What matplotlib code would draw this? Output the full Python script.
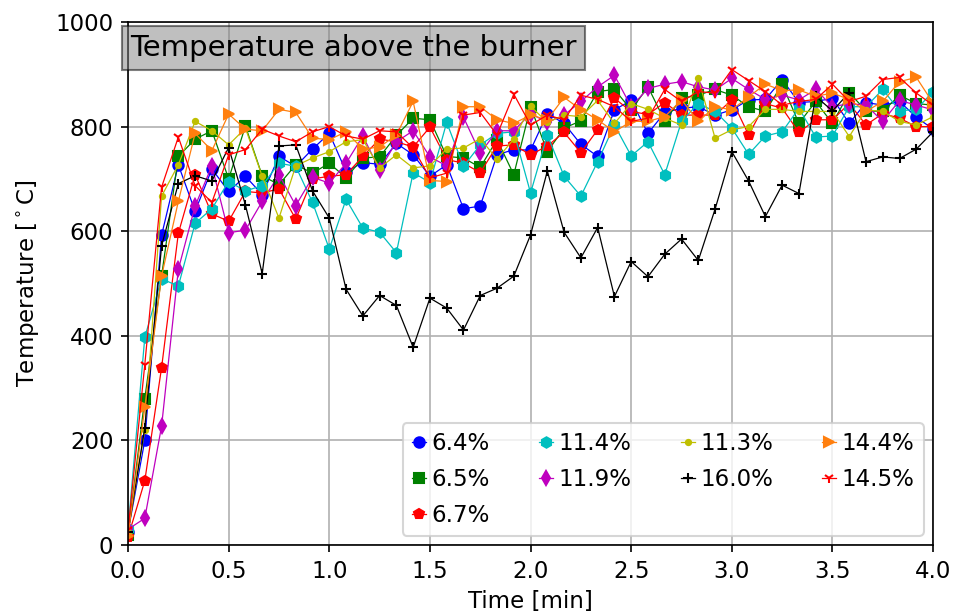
import numpy as np
import matplotlib
matplotlib.use("Agg")
import matplotlib.pyplot as plt

# one sample every 5 s
time_min = np.arange(49) * 5 / 60.0

labels = ["6.4%", "6.5%", "6.7%", "11.4%", "11.9%", "11.3%", "16.0%", "14.4%", "14.5%"]

t_64 = [25, 200, 592, 727, 638, 719, 676, 705, 670, 743, 724, 757, 787, 714, 731, 728, 768,
        746, 705, 727, 643, 648, 746, 756, 755, 825, 806, 766, 743, 832, 850, 787, 827, 835,
        838, 822, 832, 851, 852, 890, 846, 848, 854, 806, 846, 841, 848, 818, 795]
t_65 = [20, 280, 514, 743, 776, 792, 700, 801, 706, 689, 727, 711, 730, 702, 740, 742, 783,
        816, 813, 743, 740, 722, 775, 708, 838, 752, 797, 811, 867, 871, 832, 876, 811, 854,
        860, 871, 860, 838, 829, 881, 806, 848, 806, 865, 830, 829, 860, 844, 841]
t_67 = [15, 123, 339, 596, 708, 633, 619, 676, 673, 681, 623, 700, 705, 708, 743, 776, 771,
        761, 799, 737, 730, 712, 763, 765, 746, 763, 789, 750, 794, 854, 829, 823, 846, 822,
        822, 822, 851, 784, 844, 835, 789, 813, 813, 844, 803, 825, 816, 800, 800]
t_114 = [30, 397, 509, 495, 615, 643, 695, 677, 687, 730, 724, 655, 566, 661, 606, 598, 559,
         712, 693, 808, 724, 765, 787, 790, 673, 784, 705, 667, 733, 803, 744, 771, 708, 810,
         844, 829, 797, 747, 782, 790, 835, 780, 782, 838, 838, 871, 830, 833, 867]
t_119 = [30, 51, 227, 527, 648, 725, 597, 602, 657, 708, 649, 703, 692, 730, 782, 717, 771,
         792, 742, 725, 818, 749, 792, 792, 825, 808, 822, 848, 876, 898, 838, 873, 881, 886,
         876, 870, 892, 871, 852, 860, 851, 871, 838, 844, 841, 810, 850, 841, 832]
t_113 = [25, 220, 667, 727, 810, 792, 765, 797, 705, 625, 725, 740, 752, 771, 775, 721, 746,
         721, 725, 757, 759, 777, 738, 776, 839, 808, 822, 819, 850, 806, 844, 833, 816, 803,
         892, 778, 794, 800, 833, 833, 829, 829, 829, 781, 832, 829, 810, 803, 819]
t_160 = [25, 224, 572, 691, 706, 696, 760, 650, 519, 763, 765, 677, 625, 489, 438, 477, 458,
         378, 472, 453, 411, 477, 491, 514, 593, 715, 598, 549, 607, 475, 542, 513, 556, 585,
         544, 642, 752, 696, 628, 688, 672, 858, 830, 865, 733, 742, 739, 757, 790]
t_144 = [18, 263, 514, 657, 787, 754, 824, 795, 792, 833, 827, 778, 775, 790, 757, 761, 784,
         848, 697, 695, 838, 838, 813, 806, 822, 813, 856, 832, 813, 790, 810, 810, 819, 851,
         810, 838, 832, 857, 881, 869, 870, 858, 864, 852, 829, 848, 886, 894, 845]
t_145 = [28, 345, 684, 780, 687, 655, 746, 756, 795, 782, 771, 790, 800, 782, 776, 792, 790,
         759, 702, 711, 822, 827, 784, 862, 803, 822, 813, 860, 852, 838, 810, 816, 871, 848,
         867, 864, 909, 888, 867, 841, 848, 852, 881, 848, 858, 890, 894, 864, 841]

series = [t_64, t_65, t_67, t_114, t_119, t_113, t_160, t_144, t_145]
styles = [("b", "o"), ("g", "s"), ("r", "p"), ("c", "h"), ("m", "d"),
          ("y", "."), ("k", "+"), ("tab:orange", ">"), ("r", "1")]

plt.rcParams["font.size"] = 11

dpi = 150
fig = plt.figure(figsize=(959 / dpi, 616 / dpi), dpi=dpi)
ax = fig.add_axes([0.1335, 0.1153, 0.8395, 0.849])

for vals, (col, mk), lab in zip(series, styles, labels):
    ax.plot(time_min, vals, color=col, marker=mk, markersize=5, linewidth=0.6, label=lab)

ax.set_xlim(0, 4)
ax.set_ylim(0, 1000)
ax.set_xticks(np.arange(0, 4.01, 0.5))
ax.set_yticks(np.arange(0, 1001, 200))
ax.grid(True)
ax.set_xlabel("Time [min]", labelpad=3.5)
ax.set_ylabel(r"Temperature [$^\circ$C]", labelpad=7)

ax.legend(ncol=4, loc="lower right", handlelength=0.6, handletextpad=0.25,
          columnspacing=2.15, borderaxespad=0.4, labelspacing=0.55)

# title in a grey box over the top-left corner
fig.text(130 / 959, 1 - 48 / 616, "Temperature above the burner", fontsize=14,
         va="center", ha="left", bbox=dict(facecolor="gray", alpha=0.5))

fig.savefig("out.png", dpi=dpi)
